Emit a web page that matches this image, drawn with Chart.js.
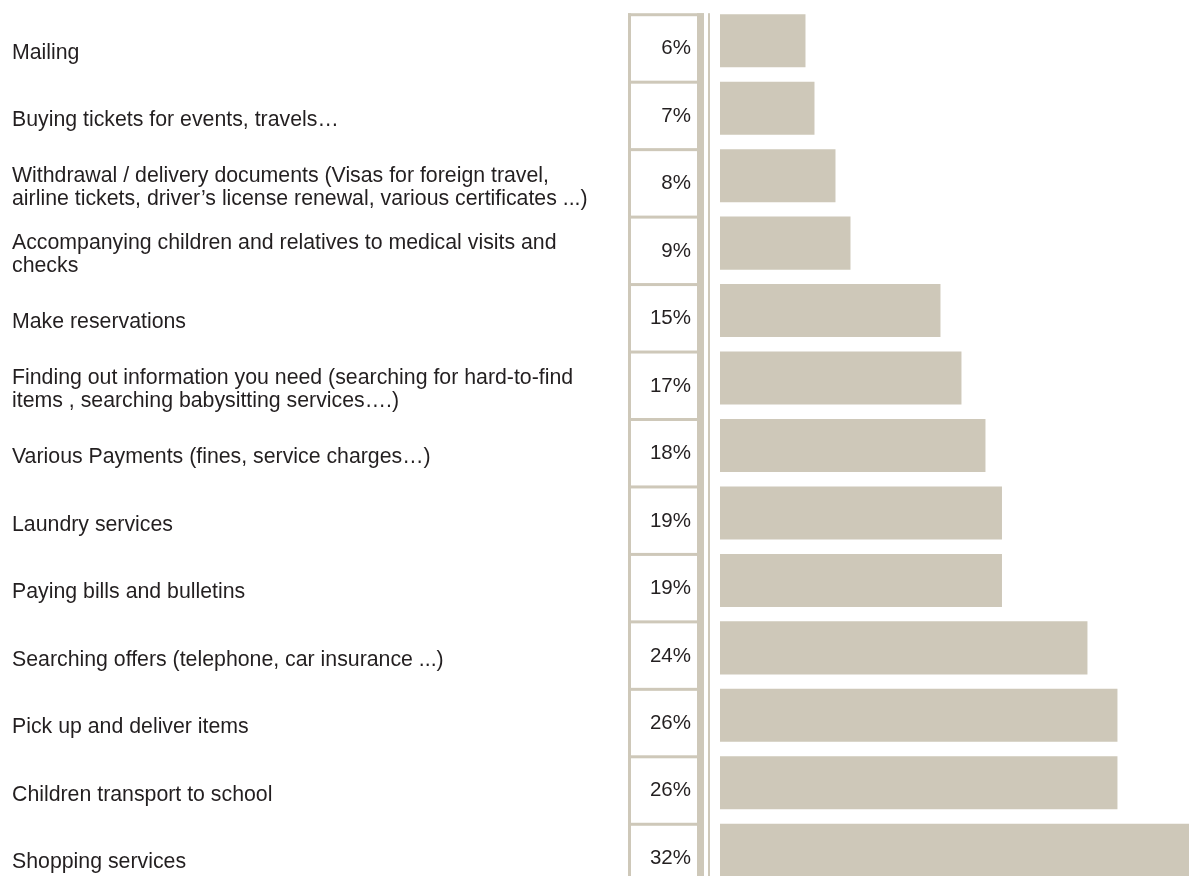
<!DOCTYPE html>
<html>
<head>
<meta charset="utf-8">
<script src="https://cdn.jsdelivr.net/npm/chart.js@4"></script>
<style>
  html, body { margin: 0; padding: 0; background: #fff; overflow: hidden; }
  canvas { display: block; }
</style>
</head>
<body>
<canvas id="chart" width="1189" height="884"></canvas>
<script>
// services, top to bottom
const categories = [
  'Mailing',
  'Buying tickets for events, travels…',
  ['Withdrawal / delivery documents (Visas for foreign travel,', 'airline tickets, driver’s license renewal, various certificates ...)'],
  ['Accompanying children and relatives to medical visits and', 'checks'],
  'Make reservations',
  ['Finding out information you need (searching for hard-to-find', 'items , searching babysitting services….)'],
  'Various Payments (fines, service charges…)',
  'Laundry services',
  'Paying bills and bulletins',
  'Searching offers (telephone, car insurance ...)',
  'Pick up and deliver items',
  'Children transport to school',
  'Shopping services'
];
// bar lengths
const barValues = [5.7, 6.3, 7.7, 8.7, 14.7, 16.1, 17.7, 18.8, 18.8, 24.5, 26.5, 26.5, 32];
// percentages printed in the table column
const shownValues = ['6%', '7%', '8%', '9%', '15%', '17%', '18%', '19%', '19%', '24%', '26%', '26%', '32%'];

const beige = '#cec8b9';
const textCol = '#231f20';
const font = '"Liberation Sans", Arial, Helvetica, sans-serif';

// table column with labels + values, drawn next to the bars
const tablePlugin = {
  id: 'table',
  afterDatasetsDraw(chart) {
    const ctx = chart.ctx;
    const meta = chart.getDatasetMeta(0);
    const H = chart.height;
    const boxL = 628, boxR = 704;
    const top0 = meta.data[0].y - meta.data[0].height / 2 - 1;
    ctx.save();
    ctx.fillStyle = beige;
    ctx.fillRect(boxL, top0, 3, H);
    ctx.fillRect(boxR - 7, top0, 7, H);
    ctx.fillRect(boxR + 4, top0, 2, H);
    ctx.fillRect(boxL, top0, boxR - boxL, 3);
    meta.data.forEach((el, i) => {
      if (i === 0) return;
      const t = el.y - el.height / 2;
      ctx.fillRect(boxL + 3, t - 1, boxR - boxL - 10, 3);
    });

    ctx.fillStyle = textCol;
    ctx.textBaseline = 'middle';
    meta.data.forEach((el, i) => {
      // value column
      ctx.font = '20.5px ' + font;
      ctx.textAlign = 'right';
      ctx.fillText(shownValues[i], 691, el.y + 8);
      // category label
      ctx.font = '21.3px ' + font;
      ctx.textAlign = 'left';
      const lines = Array.isArray(categories[i]) ? categories[i] : [categories[i]];
      const lh = 23;
      const y0 = el.y + 12 - (lines.length - 1) * lh / 2;
      lines.forEach((ln, k) => ctx.fillText(ln, 12, y0 + k * lh));
    });
    ctx.restore();
  }
};

new Chart(document.getElementById('chart'), {
  type: 'bar',
  data: {
    labels: categories,
    datasets: [{
      data: barValues,
      backgroundColor: beige,
      borderWidth: 0,
      categoryPercentage: 1,
      barPercentage: 0.786
    }]
  },
  options: {
    indexAxis: 'y',
    responsive: false,
    animation: false,
    layout: { padding: { left: 720, top: 7, right: 0, bottom: 0 } },
    scales: {
      x: { display: false, min: 0, max: 31.27 },
      y: { display: false }
    },
    plugins: {
      legend: { display: false },
      tooltip: { enabled: false }
    }
  },
  plugins: [tablePlugin]
});
</script>
</body>
</html>
